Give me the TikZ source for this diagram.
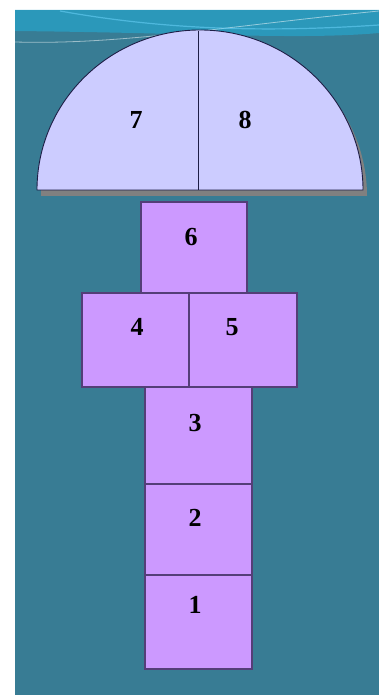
\documentclass[tikz,border=0pt]{standalone}
\usepackage{fontspec}
\setmainfont{Liberation Serif}
\definecolor{bgteal}{RGB}{56,124,148}
\definecolor{swoosh}{RGB}{40,160,196}
\definecolor{domefill}{RGB}{204,204,255}
\definecolor{boxfill}{RGB}{204,153,255}
\definecolor{boxline}{RGB}{84,62,120}
\definecolor{domeline}{RGB}{30,30,70}
\tikzset{
  hopbox/.style={fill=boxfill, draw=boxline, line width=1.3pt},
  dome/.style={fill=domefill, draw=domeline, line width=0.9pt},
  num/.style={font=\bfseries\fontsize{26}{26}\selectfont, inner sep=0pt}
}
\begin{document}
\begin{tikzpicture}[x=1pt, y=1pt]
   \useasboundingbox (0,0) rectangle (379,695);
   \fill[bgteal] (15,0) rectangle (379,685);
   % swooshes at the top
   \fill[swoosh, opacity=0.8] (15,685) -- (379,685) -- (379,662)
      .. controls (300,655) and (200,662) .. (15,664) -- cycle;
   \draw[white, opacity=0.5, line width=0.8pt] (15,653) .. controls (120,650) and (220,668) .. (379,684);
   \draw[cyan!60, opacity=0.6, line width=1.2pt] (60,684) .. controls (160,666) and (260,662) .. (379,670);
   % dome 7|8
   \newdimen\R
   \R=163pt
   \fill[gray] (41,499) arc[start angle=180, end angle=0, x radius=\R, y radius=160pt] -- cycle;
   \draw[dome] (37,505) arc[start angle=180, end angle=0, x radius=\R, y radius=160pt] -- cycle;
   \draw[domeline, line width=0.9pt] (198,664) -- (198,505);
   \foreach \n/\lx in {7/136, 8/245}
     \node[num] (n\n) at (\lx,575) {\n};
   % boxes 1..6
   \foreach \n/\xa/\ya/\xb/\yb/\lx/\ly in
     { 6/141/493/247/402/191/458,
       4/82/402/189/308/137/368,
       5/189/402/297/308/232/368,
       3/145/308/252/211/195/272,
       2/145/211/252/120/195/177,
       1/145/120/252/26/195/90
     }
     {
     \draw[hopbox] (\xa,\ya) rectangle (\xb,\yb);
     \node[num] (n\n) at (\lx,\ly) {\n};
     }
\end{tikzpicture}
\end{document}
